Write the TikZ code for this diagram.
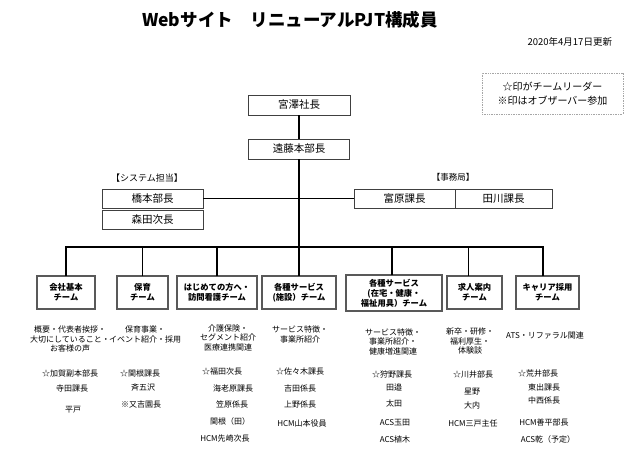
\documentclass[tikz,border=0pt]{standalone}
\usepackage{fontspec}
\setmainfont{Noto Sans CJK JP}
\begin{document}
\begin{tikzpicture}[x=1pt,y=-1pt,
  every node/.style={inner sep=0pt, outer sep=0pt},
  topbox/.style={draw=black!75, line width=0.7pt, minimum height=20pt, font=\fontsize{10.5}{12}\selectfont},
  teambox/.style={draw=black!65, line width=1.1pt, minimum height=33pt, align=center, font=\bfseries\fontsize{8.3}{10}\selectfont},
  desc/.style={align=center, font=\fontsize{8}{9.5}\selectfont},
  person/.style={font=\fontsize{8}{9.5}\selectfont},
  conn/.style={line width=1.3pt, black}]
\useasboundingbox (0,0) rectangle (640,464);
\fill[white] (0,0) rectangle (640,464);

% title and date
\node[font=\bfseries\fontsize{17.5}{20}\selectfont] (title) at (290,20) {Webサイト　リニューアルPJT構成員};
\node[anchor=east, font=\fontsize{9.5}{11}\selectfont] (date) at (612,42) {2020年4月17日更新};

% legend
\node[draw=black!35, densely dotted, line width=0.7pt, minimum width=141pt, minimum height=41pt, align=center,
      font=\fontsize{10}{14}\selectfont] (legend) at (552.5,93.5) {☆印がチームリーダー\\※印はオブザーバー参加};

% top boxes
\node[topbox, minimum width=102pt] (miyazawa) at (299,105) {宮澤社長};
\node[topbox, minimum width=101pt] (endo) at (299,149) {遠藤本部長};
\node[topbox, minimum width=101pt, minimum height=19pt] (hashimoto) at (152.5,198.5) {橋本部長};
\node[topbox, minimum width=101pt, minimum height=19pt] (morita) at (152.5,219.5) {森田次長};
\node[topbox, minimum width=101pt, minimum height=19pt] (tomihara) at (404.5,198.5) {富原課長};
\node[topbox, minimum width=97pt, minimum height=19pt] (tagawa) at (503.5,198.5) {田川課長};
\node[font=\fontsize{9}{11}\selectfont] (syslabel) at (147,178) {【システム担当】};
\node[font=\fontsize{8.5}{10}\selectfont] (jimulabel) at (453,177) {【事務局】};

% team boxes
\node[teambox, minimum width=58pt] (t1) at (66,292.5) {会社基本\\チーム};
\node[teambox, minimum width=51pt] (t2) at (142.5,292.5) {保育\\チーム};
\node[teambox, minimum width=80pt] (t3) at (217,292.5) {はじめての方へ・\\訪問看護チーム};
\node[teambox, minimum width=74pt] (t4) at (299,292.5) {各種サービス\\(施設）チーム};
\node[teambox, minimum width=96pt, minimum height=36pt] (t5) at (394,293) {各種サービス\\(在宅・健康・\\福祉用具）チーム};
\node[teambox, minimum width=55pt] (t6) at (474.5,292.5) {求人案内\\チーム};
\node[teambox, minimum width=63pt] (t7) at (547.5,292.5) {キャリア採用\\チーム};

% connectors
\coordinate (bar) at (0,247);
\draw[conn] (miyazawa) -- (endo);
\draw[conn] (endo) -- (t4);
\draw[conn] (hashimoto) -- (tomihara);
\draw[conn] (t1.north) -- (t1.north |- bar) -- ([xshift=-4.5pt]t7.north |- bar) -- ([xshift=-4.5pt]t7.north);
\draw[conn] (t2.north) -- (t2.north |- bar);
\draw[conn] (t3.north) -- (t3.north |- bar);
\draw[conn] ([xshift=-2pt]t5.north) -- ([xshift=-2pt]t5.north |- bar);
\draw[conn] ([xshift=-6pt]t6.north) -- ([xshift=-6pt]t6.north |- bar);

% descriptions
\node[desc] (d1) at (70,339) {概要・代表者挨拶・\\大切にしていること・\\お客様の声};
\node[desc] (d2) at (145,334.5) {保育事業・\\イベント紹介・採用};
\node[desc] (d3) at (228,337.5) {介護保険・\\セグメント紹介\\医療連携関連};
\node[desc] (d4) at (300,334.5) {サービス特徴・\\事業所紹介};
\node[desc] (d5) at (393,341.5) {サービス特徴・\\事業所紹介・\\健康増進関連};
\node[desc] (d6) at (470,341) {新卒・研修・\\福利厚生・\\体験談};
\node[desc] (d7) at (545,335) {ATS・リファラル関連};

% members
\node[person] (m11) at (70,373) {☆加賀副本部長};
\node[person] (m12) at (72,388) {寺田課長};
\node[person] (m13) at (73,410) {平戸};

\node[person] (m21) at (140,373) {☆関根課長};
\node[person] (m22) at (143,387) {斉五沢};
\node[person] (m23) at (141,404) {※又吉園長};

\node[person] (m31) at (222,371) {☆福田次長};
\node[person] (m32) at (233,388) {海老原課長};
\node[person] (m33) at (232,404) {笠原係長};
\node[person] (m34) at (230,421) {関根（田）};
\node[person] (m35) at (225,438) {HCM先崎次長};

\node[person] (m41) at (300,371) {☆佐々木課長};
\node[person] (m42) at (300,388) {吉田係長};
\node[person] (m43) at (300,404) {上野係長};
\node[person] (m44) at (302,423) {HCM山本役員};

\node[person] (m51) at (392,374) {☆狩野課長};
\node[person] (m52) at (394,387) {田邉};
\node[person] (m53) at (394,403) {太田};
\node[person] (m54) at (395,423) {ACS玉田};
\node[person] (m55) at (395,439) {ACS植木};

\node[person] (m61) at (473,375) {☆川井部長};
\node[person] (m62) at (472,392) {星野};
\node[person] (m63) at (472,405) {大内};
\node[person] (m64) at (473,423) {HCM三戸主任};

\node[person] (m71) at (538,373) {☆荒井部長};
\node[person] (m72) at (544,387) {東出課長};
\node[person] (m73) at (544,400) {中西係長};
\node[person] (m74) at (544,422) {HCM善平部長};
\node[person] (m75) at (548,439) {ACS乾（予定）};
\end{tikzpicture}
\end{document}
